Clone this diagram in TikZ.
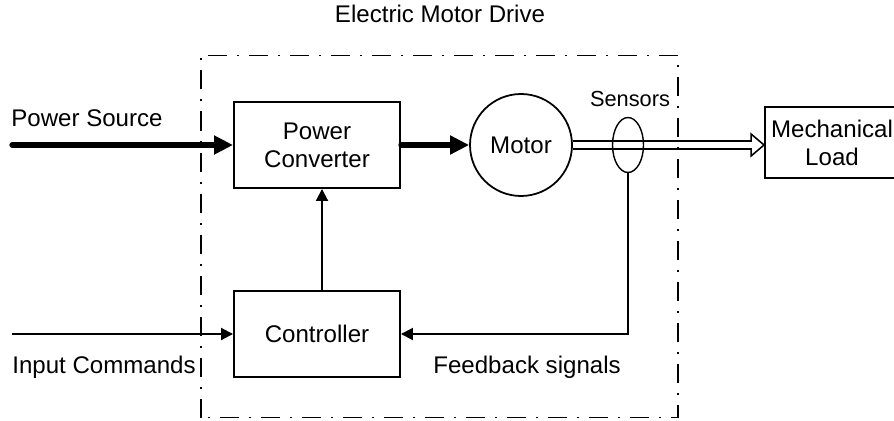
\documentclass[tikz,border=0pt]{standalone}
\usepackage{fontspec}
\setmainfont{Liberation Sans}
\usepackage{tikz}
\usetikzlibrary{shapes,arrows.meta,calc}

\tikzset{
  block/.style={draw, line width=1.1pt, minimum width=3.32cm, minimum height=1.72cm, align=center},
  thinarrow/.style={line width=1.1pt, -{Triangle[length=0.24cm,width=0.24cm]}},
  heavyarrow/.style={line width=3pt, line cap=round, -{Triangle[length=0.38cm,width=0.36cm]}},
  drivebox/.style={line width=1.1pt, dash pattern=on 0.38cm off 0.2cm on 0.04cm off 0.2cm},
  label/.style={inner sep=0pt}
}

\begin{document}
\begin{tikzpicture}[font=\fontsize{13.7}{16}\selectfont]
    \clip (0,0) rectangle (17.88,8.4);
    \draw[drivebox] (4.02,0.05) rectangle (13.56,7.29);

    \node[block] (pc) at (6.34,5.5) {Power\\Converter};
    \node[block] (ctrl) at (6.34,1.72) {Controller};
    \node[draw, circle, line width=1pt, minimum size=2.04cm] (motor) at (10.42,5.5) {Motor};
    \node[block, minimum width=2.68cm, minimum height=1.42cm] (load) at (16.64,5.55) {Mechanical\\Load};
    \coordinate (tip) at (motor.east -| load.west);

    \node[label, anchor=base] (title) at (8.8,7.94) {Electric Motor Drive};
    \node[label, anchor=base west] (srclabel) at (0.22,5.87) {Power Source};
    \node[label, anchor=base west] (cmdlabel) at (0.24,0.94) {Input Commands};
    \node[label, anchor=base west] (fblabel) at (8.66,0.94) {Feedback signals};
    \node[label, anchor=base, font=\fontsize{12.4}{14}\selectfont] (senslabel) at (12.6,6.27) {Sensors};

    \coordinate (src) at (0.24,5.5);
    \coordinate (cmd) at (0.24,1.72);
    \draw[heavyarrow] (src) -- (pc.west);
    \draw[heavyarrow] (pc.east) -- (motor.west);
    \draw[line width=0.9pt, line join=miter]
          ($(motor.east)+(0,0.08)$) -- ($(tip)+(-0.26,0.08)$) -- ++(0,0.14) -- (tip)
          -- ($(tip)+(-0.26,-0.22)$) -- ++(0,0.14) -- ($(motor.east)+(0,-0.08)$);

    \node[draw, ellipse, line width=0.8pt, minimum width=0.62cm, minimum height=1.1cm, inner sep=0pt] (sens) at (12.56,5.5) {};

    \draw[thinarrow] ([xshift=0.1cm]ctrl.north) -- ([xshift=0.1cm]pc.south);
    \draw[thinarrow] (sens.south) |- (ctrl.east);
    \draw[thinarrow] (cmd) -- (ctrl.west);
\end{tikzpicture}
\end{document}
